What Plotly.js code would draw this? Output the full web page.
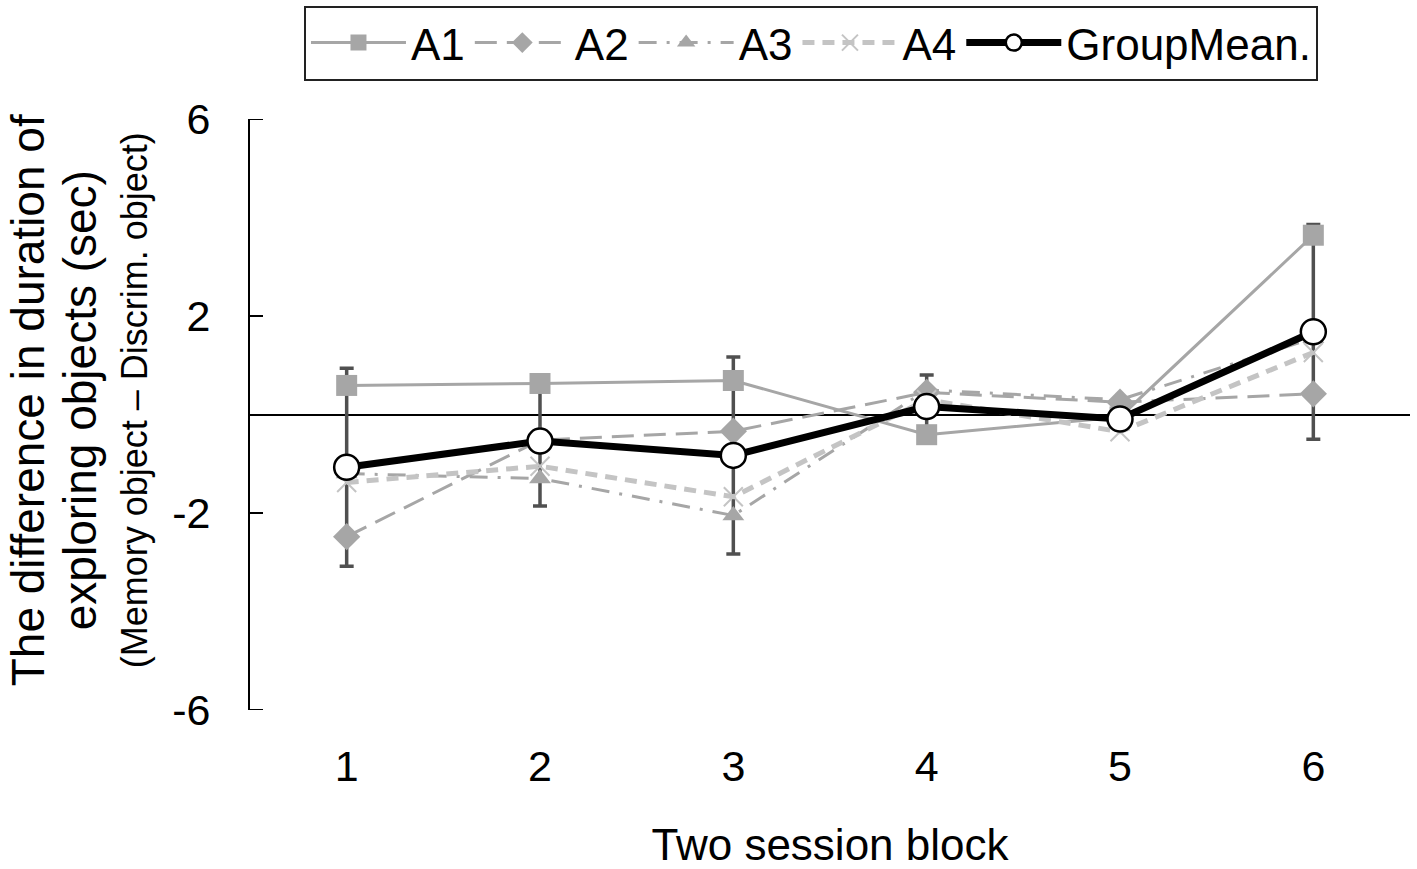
<!DOCTYPE html>
<html>
<head>
<meta charset="utf-8">
<script src="https://cdn.plot.ly/plotly-3.0.1.min.js"></script>
<style>
  body { margin: 0; background: #fff; }
  #chart { width: 1417px; height: 869px; }
</style>
</head>
<body>
<div id="chart"></div>
<script>
// session blocks
const blocks = [1, 2, 3, 4, 5, 6];

// individual animals
const a1 = [0.59, 0.63, 0.69, -0.41, -0.05, 3.64];
const a2 = [-2.48, -0.52, -0.34, 0.45, 0.25, 0.42];
const a3 = [-1.2, -1.3, -2.05, 0.5, 0.3, 1.55];
const a4 = [-1.38, -1.05, -1.67, 0.3, -0.35, 1.26];

// group mean and its error (same up and down)
const groupMean = [-1.07, -0.54, -0.83, 0.16, -0.09, 1.68];
const groupErr = [2.01, 1.32, 2.0, 0.64, 0.2, 2.18];

const yTicks = [-6, -2, 2, 6];
const yTickText = ['-6', '-2', '2', '6'];

const grey = '#a6a6a6';
const font = 'Liberation Sans, Arial, sans-serif';

var traces = [
    // error bars go first so the markers sit on top of them
    {
        x: blocks, y: groupMean, mode: 'markers', showlegend: false,
        hoverinfo: 'skip',
        marker: { size: 1, opacity: 0 },
        error_y: { type: 'data', array: groupErr, visible: true,
            color: '#505050', thickness: 3.5, width: 7 }
    },
    {
        x: blocks, y: a1, name: 'A1', mode: 'lines+markers',
        line: { color: grey, width: 3 },
        marker: { symbol: 'square', size: 21, color: grey }
    },
    {
        x: blocks, y: a2, name: 'A2', mode: 'lines+markers',
        line: { color: grey, width: 3, dash: '22px,10px' },
        marker: { symbol: 'diamond', size: 21, color: grey }
    },
    {
        x: blocks, y: a3, name: 'A3', mode: 'lines+markers',
        line: { color: grey, width: 3, dash: '18px,10px,3px,10px' },
        marker: { symbol: 'triangle-up', size: 19, color: grey }
    },
    {
        x: blocks, y: a4, name: 'A4', mode: 'lines+markers',
        line: { color: '#c4c4c4', width: 5, dash: '12px,8px' },
        marker: { symbol: 'x-thin-open', size: 19,
            line: { color: '#b0b0b0', width: 2 } }
    },
    {
        x: blocks, y: groupMean, name: 'GroupMean.', mode: 'lines+markers',
        line: { color: '#000', width: 7 },
        marker: { symbol: 'circle', size: 25, color: '#fff',
            line: { color: '#000', width: 2.5 } }
    }
];

// short tick marks pointing into the plot, one per y tick
var tickShapes = yTicks.map(function(v) {
    return {
        type: 'line', xref: 'paper', yref: 'y',
        x0: 0, x1: 0.0112, y0: v, y1: v,
        line: { color: '#000', width: 2 }
    };
});

var layout = {
    width: 1417,
    height: 869,
    margin: { l: 250, r: 7, t: 118, b: 159 },
    paper_bgcolor: '#fff',
    plot_bgcolor: '#fff',
    font: { family: font, color: '#000', size: 43 },
    showlegend: true,
    legend: {
        orientation: 'h',
        x: 0.4836, xanchor: 'center',
        y: 1.19, yanchor: 'top',
        bordercolor: '#222', borderwidth: 2,
        font: { size: 44, color: '#000' },
        itemwidth: 95,
        traceorder: 'normal'
    },
    xaxis: {
        range: [0.5, 6.5],
        tickvals: blocks,
        showline: false,
        showgrid: false,
        zeroline: false,
        ticks: '',
        tickfont: { size: 43 },
        ticklabelstandoff: 27,
        title: { text: 'Two session block', font: { size: 44 }, standoff: 43 }
    },
    yaxis: {
        range: [-6, 6],
        tickvals: yTicks,
        ticktext: yTickText,
        showline: true,
        linecolor: '#000',
        linewidth: 2,
        ticks: '',
        showgrid: false,
        zeroline: true,
        zerolinecolor: '#000',
        zerolinewidth: 2,
        tickfont: { size: 43 },
        ticklabelstandoff: 29
    },
    shapes: tickShapes,
    annotations: [
        { text: 'The difference in duration of', xref: 'paper', yref: 'paper',
          x: -0.1914, y: 0.524, xanchor: 'center', yanchor: 'middle',
          textangle: -90, showarrow: false, font: { size: 46 } },
        { text: 'exploring objects (sec)', xref: 'paper', yref: 'paper',
          x: -0.1466, y: 0.524, xanchor: 'center', yanchor: 'middle',
          textangle: -90, showarrow: false, font: { size: 46 } },
        { text: '(Memory object \u2013 Discrim. object)', xref: 'paper', yref: 'paper',
          x: -0.1, y: 0.524, xanchor: 'center', yanchor: 'middle',
          textangle: -90, showarrow: false, font: { size: 36 } }
    ]
};

Plotly.newPlot('chart', traces, layout, { staticPlot: true });
</script>
</body>
</html>
